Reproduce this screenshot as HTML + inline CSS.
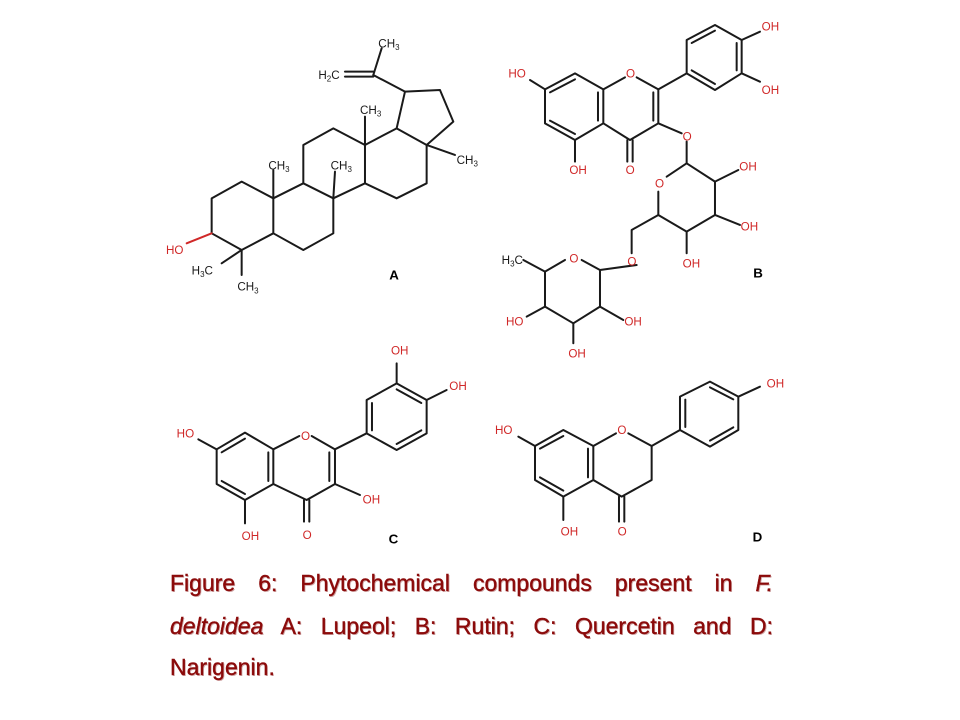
<!DOCTYPE html>
<html><head><meta charset="utf-8"><style>
html,body{margin:0;padding:0;background:#fff;width:960px;height:720px;overflow:hidden;position:relative}
svg{position:absolute;left:0;top:0}
.cap{position:absolute;left:170px;width:603px;font-family:"Liberation Sans",sans-serif;font-size:23px;line-height:26px;color:#8b0a0a;text-align:justify;text-align-last:justify;white-space:nowrap;-webkit-text-stroke:0.4px #8b0a0a;text-shadow:1px 1px 0 rgba(120,0,0,0.35)}
</style></head><body>
<svg width="960" height="720" viewBox="0 0 960 720" xmlns="http://www.w3.org/2000/svg">
<style>
line,polyline,polygon{stroke:#1a1a1a;stroke-width:6;fill:none;stroke-linecap:round;stroke-linejoin:round}
text{font-family:"Liberation Sans",sans-serif;font-size:35px;fill:#1a1a1a}
.r{fill:#d02828}
.b{font-weight:bold;font-size:40px;fill:#000}
</style>
<!-- A Lupeol -->
<g transform="translate(160,30) scale(0.3333)">
<polygon points="245,455 155,505 155,610 245,660 340,610 340,505"/>
<polyline points="340,505 430,460 520,505 520,610 430,660 340,610"/>
<polyline points="430,460 430,345 520,295 615,345 615,460 520,505"/>
<polyline points="615,345 710,295 800,345 800,460 710,505 615,460"/>
<polyline points="710,295 735,185 840,180 880,275 800,345"/>
<line x1="155" y1="610" x2="80" y2="640" style="stroke:#d02828"/>
<line x1="245" y1="660" x2="185" y2="700"/>
<line x1="245" y1="660" x2="245" y2="735"/>
<line x1="340" y1="505" x2="340" y2="420"/>
<line x1="520" y1="505" x2="525" y2="425"/>
<line x1="615" y1="345" x2="615" y2="260"/>
<line x1="800" y1="345" x2="885" y2="375"/>
<line x1="735" y1="185" x2="640" y2="135"/>
<line x1="640" y1="140" x2="555" y2="140"/>
<line x1="640" y1="125" x2="555" y2="125"/>
<line x1="640" y1="135" x2="665" y2="55"/>
<text x="475" y="147">H<tspan font-size="24" dy="8">2</tspan><tspan dy="-8">C</tspan></text>
<text x="655" y="52">CH<tspan font-size="24" dy="8">3</tspan></text>
<text x="600" y="252">CH<tspan font-size="24" dy="8">3</tspan></text>
<text x="325" y="418">CH<tspan font-size="24" dy="8">3</tspan></text>
<text x="512" y="418">CH<tspan font-size="24" dy="8">3</tspan></text>
<text x="890" y="402">CH<tspan font-size="24" dy="8">3</tspan></text>
<text x="95" y="733">H<tspan font-size="24" dy="8">3</tspan><tspan dy="-8">C</tspan></text>
<text x="232" y="782">CH<tspan font-size="24" dy="8">3</tspan></text>
<text x="18" y="672" class="r">HO</text>
<text x="688" y="748" class="b">A</text>
</g>
<!-- B Rutin -->
<g transform="translate(490,30) scale(0.3333)">
<polygon points="255,130 165,178 165,280 255,330 340,280 340,178"/>
<line x1="255" y1="148" x2="180" y2="187"/><line x1="180" y1="272" x2="255" y2="312"/><line x1="324" y1="272" x2="324" y2="187"/>
<polyline points="340,178 405,142"/><polyline points="440,142 505,178 505,280 420,330 340,280"/>
<line x1="490" y1="187" x2="490" y2="272"/>
<line x1="412" y1="330" x2="412" y2="395"/><line x1="428" y1="330" x2="428" y2="395"/>
<line x1="165" y1="178" x2="120" y2="150"/>
<line x1="255" y1="330" x2="255" y2="395"/>
<line x1="505" y1="280" x2="575" y2="310"/>
<line x1="505" y1="178" x2="590" y2="130"/>
<line x1="590" y1="335" x2="590" y2="400"/>
<polyline points="530,440 590,400 675,455 675,555 590,605 505,555 505,485"/>
<line x1="675" y1="455" x2="745" y2="420"/>
<line x1="675" y1="555" x2="750" y2="585"/>
<line x1="590" y1="605" x2="590" y2="670"/>
<polyline points="505,555 425,600 425,670"/>
<polyline points="440,705 330,720 330,830 250,880 165,830 165,725 225,690"/>
<line x1="275" y1="690" x2="330" y2="720"/>
<line x1="165" y1="725" x2="100" y2="690"/>
<line x1="165" y1="830" x2="110" y2="860"/>
<line x1="250" y1="880" x2="250" y2="940"/>
<line x1="330" y1="830" x2="400" y2="870"/>
<text x="55" y="142" class="r">HO</text>
<text x="238" y="432" class="r">OH</text>
<text x="408" y="143" class="r">O</text>
<text x="407" y="432" class="r">O</text>
<text x="578" y="332" class="r">O</text>
<text x="495" y="472" class="r">O</text>
<text x="748" y="422" class="r">OH</text>
<text x="752" y="602" class="r">OH</text>
<text x="578" y="712" class="r">OH</text>
<text x="412" y="707" class="r">O</text>
<text x="238" y="697" class="r">O</text>
<text x="35" y="702">H<tspan font-size="24" dy="8">3</tspan><tspan dy="-8">C</tspan></text>
<text x="48" y="887" class="r">HO</text>
<text x="403" y="887" class="r">OH</text>
<text x="235" y="982" class="r">OH</text>
<text x="790" y="742" class="b">B</text>
</g>
<g transform="translate(660,20) scale(0.3333)">
<polygon points="80,60 165,15 245,60 245,160 165,210 80,160"/>
<line x1="95" y1="69" x2="165" y2="32"/><line x1="230" y1="69" x2="230" y2="151"/><line x1="165" y1="192" x2="95" y2="151"/>
<line x1="245" y1="60" x2="300" y2="35"/>
<line x1="245" y1="160" x2="300" y2="185"/>
<text x="305" y="32" class="r">OH</text>
<text x="305" y="222" class="r">OH</text>
</g>
<!-- C Quercetin -->
<g transform="translate(160,330) scale(0.3333)">
<polygon points="255,308 170,358 170,462 255,510 340,462 340,358"/>
<line x1="255" y1="326" x2="185" y2="367"/><line x1="185" y1="453" x2="255" y2="492"/><line x1="325" y1="453" x2="325" y2="367"/>
<polyline points="340,358 418,318"/><polyline points="455,318 525,358 525,462 440,510 340,462"/>
<line x1="508" y1="367" x2="508" y2="453"/>
<line x1="432" y1="510" x2="432" y2="575"/><line x1="448" y1="510" x2="448" y2="575"/>
<line x1="170" y1="358" x2="115" y2="328"/>
<line x1="255" y1="510" x2="255" y2="580"/>
<line x1="525" y1="462" x2="600" y2="495"/>
<line x1="525" y1="358" x2="620" y2="310"/>
<polygon points="620,310 620,210 710,160 800,210 800,310 710,360"/>
<line x1="636" y1="219" x2="636" y2="301"/><line x1="710" y1="178" x2="784" y2="219"/><line x1="784" y1="301" x2="710" y2="342"/>
<line x1="710" y1="160" x2="710" y2="100"/>
<line x1="800" y1="210" x2="860" y2="180"/>
<text x="50" y="322" class="r">HO</text>
<text x="245" y="630" class="r">OH</text>
<text x="423" y="330" class="r">O</text>
<text x="428" y="627" class="r">O</text>
<text x="608" y="520" class="r">OH</text>
<text x="693" y="74" class="r">OH</text>
<text x="868" y="180" class="r">OH</text>
<text x="686" y="640" class="b">C</text>
</g>
<!-- D Narigenin -->
<g transform="translate(480,360) scale(0.3333)">
<polygon points="250,210 165,258 165,360 250,410 340,360 340,258"/>
<line x1="250" y1="228" x2="180" y2="266"/><line x1="180" y1="352" x2="250" y2="392"/><line x1="324" y1="352" x2="324" y2="266"/>
<polyline points="340,258 408,220"/><polyline points="445,220 515,258 515,360 425,410 340,360"/>
<line x1="417" y1="410" x2="417" y2="485"/><line x1="433" y1="410" x2="433" y2="485"/>
<line x1="165" y1="258" x2="115" y2="230"/>
<line x1="250" y1="410" x2="250" y2="480"/>
<line x1="515" y1="258" x2="600" y2="210"/>
<polygon points="600,210 600,110 690,65 775,110 775,210 690,260"/>
<line x1="616" y1="119" x2="616" y2="201"/><line x1="690" y1="82" x2="760" y2="118"/><line x1="760" y1="202" x2="690" y2="242"/>
<line x1="775" y1="110" x2="840" y2="80"/>
<text x="45" y="222" class="r">HO</text>
<text x="242" y="527" class="r">OH</text>
<text x="412" y="222" class="r">O</text>
<text x="413" y="527" class="r">O</text>
<text x="860" y="82" class="r">OH</text>
<text x="818" y="545" class="b">D</text>
</g>
</svg>
<div class="cap" style="top:570px">Figure 6: Phytochemical compounds present in <i>F.</i></div>
<div class="cap" style="top:613px"><i>deltoidea</i> A: Lupeol; B: Rutin; C: Quercetin and D:</div>
<div class="cap" style="top:654px;text-align-last:left">Narigenin.</div>
</body></html>
